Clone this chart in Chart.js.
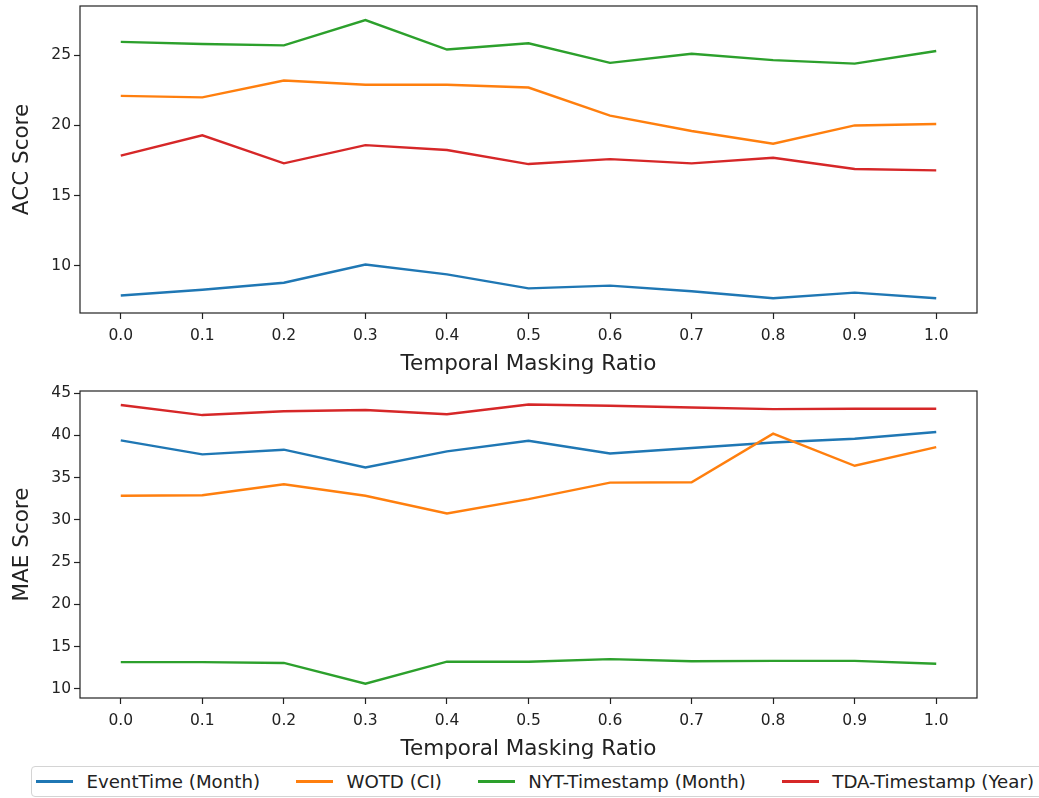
<!DOCTYPE html>
<html>
<head>
<meta charset="utf-8">
<script src="https://cdn.jsdelivr.net/npm/chart.js@4/dist/chart.umd.min.js"></script>
<style>
	body {
		margin: 0;
		background: #fff;
		width: 1039px;
		height: 798px;
		overflow: hidden;
		position: relative;
		font-family: 'DejaVu Sans', sans-serif;
	}
	#acc { position: absolute; left: 0; top: 0; }
	#mae { position: absolute; left: 0; top: 380px; }
	#legend {
		position: absolute;
		left: 31px;
		top: 766px;
		width: 1040px;
		height: 31px;
		box-sizing: border-box;
		border: 1px solid #d4d4d4;
		border-radius: 4px;
		display: flex;
		align-items: center;
		padding-left: 4px;
		font-size: 18.2px;
		color: #222;
		white-space: nowrap;
	}
	#legend .swatch { width: 39px; height: 2.6px; margin-right: 13px; }
	#legend .label { margin-right: 36px; }
</style>
</head>
<body>
<canvas id="acc" width="1039" height="380"></canvas>
<canvas id="mae" width="1039" height="385"></canvas>
<div id="legend"></div>
<script>
const ratios = [0.0, 0.1, 0.2, 0.3, 0.4, 0.5, 0.6, 0.7, 0.8, 0.9, 1.0]
const seriesNames = ['EventTime (Month)', 'WOTD (CI)', 'NYT-Timestamp (Month)', 'TDA-Timestamp (Year)']
const colors = ['#1f77b4', '#ff7f0e', '#2ca02c', '#d62728']

// ACC per masking ratio
const accEventTime = [7.9, 8.3, 8.8, 10.1, 9.4, 8.4, 8.6, 8.2, 7.7, 8.1, 7.7]
const accWotd = [22.1, 22.0, 23.2, 22.9, 22.9, 22.7, 20.7, 19.6, 18.7, 20.0, 20.1]
const accNyt = [25.95, 25.8, 25.7, 27.5, 25.4, 25.85, 24.45, 25.1, 24.65, 24.4, 25.3]
const accTda = [17.85, 19.3, 17.3, 18.6, 18.25, 17.25, 17.6, 17.3, 17.7, 16.9, 16.8]

// MAE per masking ratio
const maeEventTime = [39.4, 37.75, 38.3, 36.2, 38.1, 39.35, 37.85, 38.5, 39.15, 39.6, 40.4]
const maeWotd = [32.85, 32.9, 34.2, 32.85, 30.75, 32.45, 34.4, 34.45, 40.2, 36.4, 38.6]
const maeNyt = [13.15, 13.15, 13.05, 10.6, 13.2, 13.2, 13.5, 13.25, 13.3, 13.3, 12.95]
const maeTda = [43.6, 42.4, 42.85, 43.0, 42.5, 43.65, 43.5, 43.3, 43.1, 43.15, 43.15]

const accTicks = [10, 15, 20, 25]
const maeTicks = [10, 15, 20, 25, 30, 35, 40, 45]

const ink = '#222'
const font = 'DejaVu Sans'

// matplotlib style box around the plot area
const frame = {
	id: 'frame',
	afterDatasetsDraw(chart) {
		const { ctx, chartArea: a } = chart
		ctx.save()
		ctx.strokeStyle = ink
		ctx.lineWidth = 1.2
		ctx.strokeRect(a.left, a.top, a.right - a.left, a.bottom - a.top)
		ctx.restore()
	},
}

const makeChart = (id, series, yLabel, yTicks, yMin, yMax, padTop) => {
	const datasets = series.map((values, i) => ({
		label: seriesNames[i],
		data: values.map((y, j) => ({ x: ratios[j], y })),
		borderColor: colors[i],
		borderWidth: 2.4,
		pointRadius: 0,
		tension: 0,
		order: series.length - i,
	}))
	return new Chart(document.getElementById(id), {
		type: 'line',
		data: { datasets },
		plugins: [frame],
		options: {
			responsive: false,
			animation: false,
			layout: { padding: { top: padTop, right: 62, left: 0, bottom: 0 } },
			plugins: { legend: { display: false }, tooltip: { enabled: false } },
			scales: {
				x: {
					type: 'linear',
					min: -0.05,
					max: 1.05,
					afterBuildTicks: (scale) => {
						scale.ticks = ratios.map((value) => ({ value }))
					},
					afterFit: (scale) => {
						scale.height = 67
					},
					ticks: {
						callback: (v) => v.toFixed(1),
						color: ink,
						padding: 8,
						maxRotation: 0,
						font: { family: font, size: 15.5 },
					},
					grid: { drawOnChartArea: false, drawTicks: true, tickLength: 6, tickColor: ink, tickWidth: 1.2 },
					border: { display: false },
					title: {
						display: true,
						text: 'Temporal Masking Ratio',
						color: ink,
						padding: { top: 0, bottom: 3 },
						font: { family: font, size: 21.5 },
					},
				},
				y: {
					min: yMin,
					max: yMax,
					afterBuildTicks: (scale) => {
						scale.ticks = yTicks.map((value) => ({ value }))
					},
					afterFit: (scale) => {
						scale.width = 80
						scale.paddingTop = 0
						scale.paddingBottom = 0
					},
					ticks: {
						color: ink,
						padding: 3,
						font: { family: font, size: 15.5 },
					},
					grid: { drawOnChartArea: false, drawTicks: true, tickLength: 6, tickColor: ink, tickWidth: 1.2 },
					border: { display: false },
					title: {
						display: true,
						text: yLabel,
						color: ink,
						padding: { top: 10, bottom: 0 },
						font: { family: font, size: 21.5 },
					},
				},
			},
		},
	})
}

makeChart('acc', [accEventTime, accWotd, accNyt, accTda], 'ACC Score', accTicks, 6.65, 28.5, 6)
makeChart('mae', [maeEventTime, maeWotd, maeNyt, maeTda], 'MAE Score', maeTicks, 8.9, 45.25, 11)

// shared legend below both panels
const legendElement = document.getElementById('legend')
seriesNames.forEach((name, i) => {
	const swatch = document.createElement('span')
	swatch.className = 'swatch'
	swatch.style.background = colors[i]
	const label = document.createElement('span')
	label.className = 'label'
	label.textContent = name
	legendElement.append(swatch, label)
})
</script>
</body>
</html>
